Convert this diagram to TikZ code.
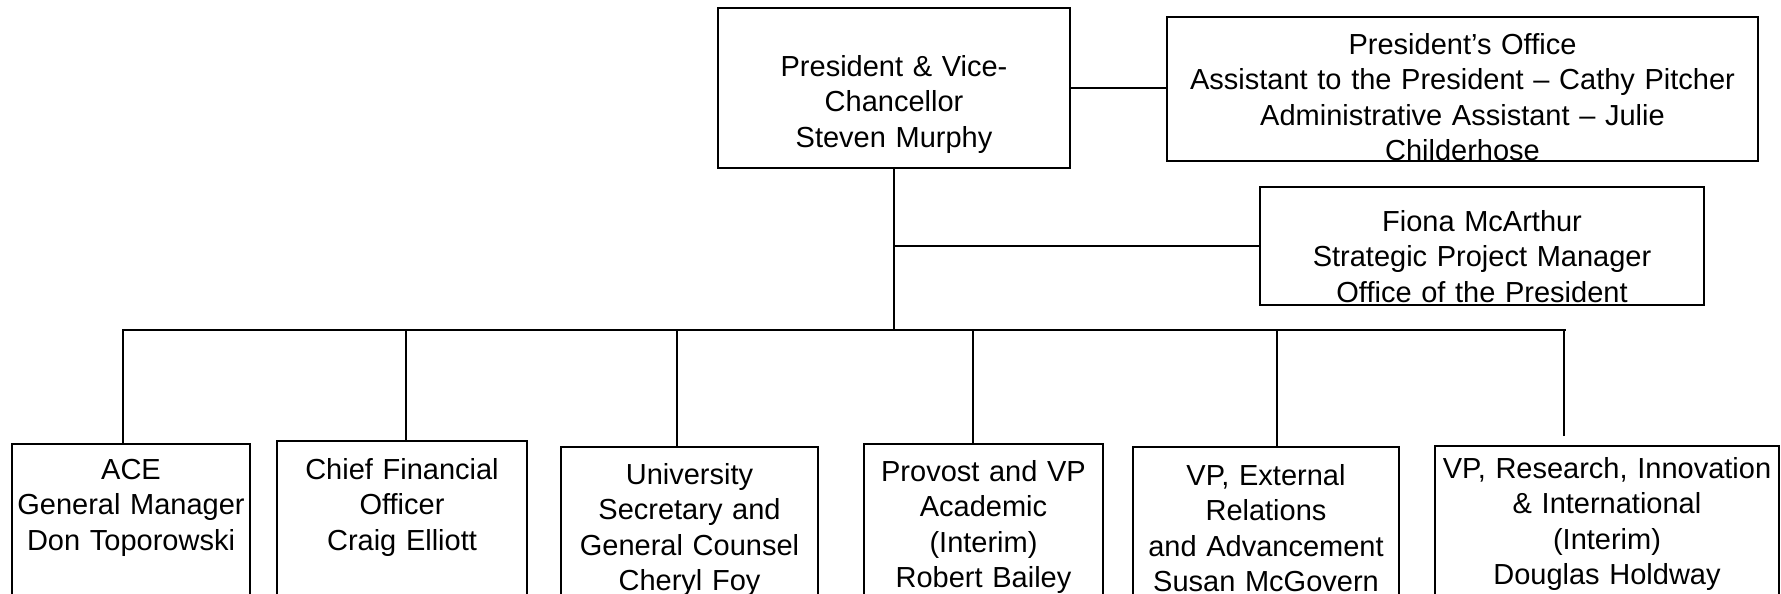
\documentclass[tikz,border=0pt]{standalone}
\usepackage{fontspec}
\setmainfont{Liberation Sans}
\usetikzlibrary{calc}

\tikzset{
	unit/.style={draw, line width=2pt, anchor=north west, align=center,
		inner xsep=0pt, inner ysep=0pt, text depth=200pt,
		font=\fontsize{29}{35.3}\selectfont},
	link/.style={line width=1.5pt}
}

\begin{document}
\begin{tikzpicture}[x=1pt,y=-1pt]
	\clip (0,0) rectangle (1781,594);
	\fill[white] (0,0) rectangle (1781,594);
	% top of the chart
	\node[unit, text width=352pt, text height=68.5pt, text depth=91.5pt] (pres) at (717,7)
		{President \& Vice-\\Chancellor\\Steven Murphy};
	\node[unit, text width=591pt, text height=37.5pt, text depth=106.5pt] (office) at (1166,16)
		{President’s Office\\Assistant to the President – Cathy Pitcher\\Administrative Assistant – Julie\\Childerhose};
	\node[unit, text width=444pt, text height=44.5pt, text depth=73.5pt] (fiona) at (1259,186)
		{Fiona McArthur\\Strategic Project Manager\\Office of the President};
	% direct reports
	\node[unit, text width=238pt, text height=35.5pt] (ace) at (11,443)
		{ACE\\General Manager\\Don Toporowski};
	\node[unit, text width=250pt, text height=38.5pt] (cfo) at (276,440)
		{Chief Financial\\Officer\\Craig Elliott};
	\node[unit, text width=257pt, text height=37.5pt] (univ) at (560,446)
		{University\\Secretary and\\General Counsel\\Cheryl Foy};
	\node[unit, text width=239pt, text height=37.5pt] (prov) at (863,443)
		{Provost and VP\\Academic\\(Interim)\\Robert Bailey};
	\node[unit, text width=266pt, text height=38.5pt] (vpext) at (1132,446)
		{VP, External\\Relations\\and Advancement\\Susan McGovern};
	\node[unit, text width=344pt, text height=32.5pt] (vpr) at (1434,445)
		{VP, Research, Innovation\\\& International\\(Interim)\\Douglas Holdway};
	% connectors
	\coordinate (busL) at (122,330);
	\coordinate (busR) at (1566,330);
	\draw[link] (pres.east) -- (pres.east -| office.west);
	\draw[link] (pres.south) -- (pres.south |- busL);
	\draw[link] (pres.south |- fiona.west) -- (fiona.west);
	\draw[link] (busL) -- (busR);
	\foreach \n/\dx/\gap in {ace/-8/0, cfo/4/0, univ/-12.5/0, prov/-10.5/0, vpext/11/0, vpr/-43/9}{
		\coordinate (d\n) at ($(\n.north)+(\dx,0)$);
		\draw[link, shorten <=\gap pt] (d\n) -- (d\n |- busL);
	}
\end{tikzpicture}
\end{document}
